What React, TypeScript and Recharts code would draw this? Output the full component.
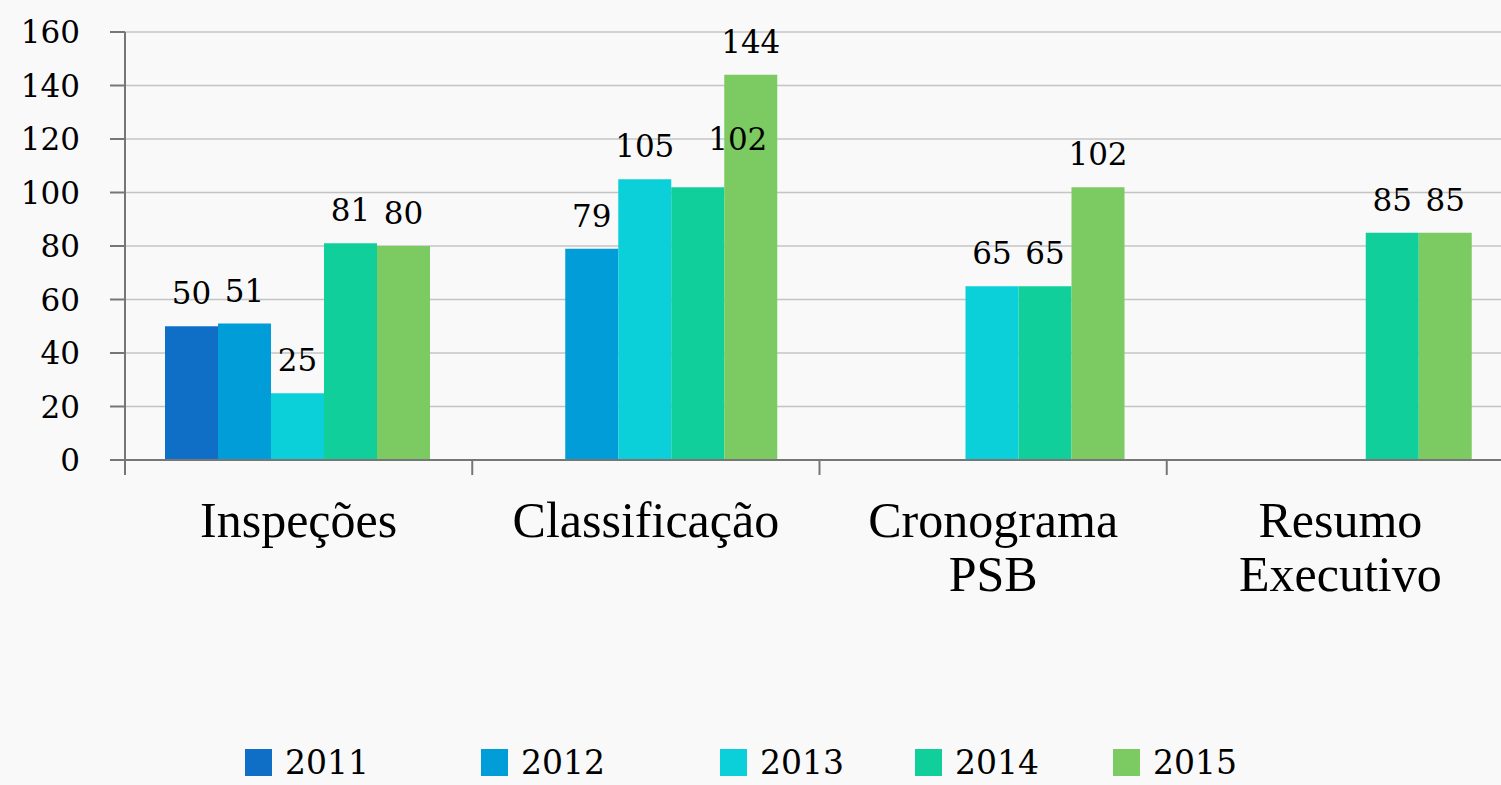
import React from 'react';
import { BarChart, Bar, XAxis, YAxis, CartesianGrid, LabelList, Legend } from 'recharts';

const categories = ['Inspeções', 'Classificação', 'Cronograma PSB', 'Resumo Executivo'];
const years = ['2011', '2012', '2013', '2014', '2015'];
const v2011 = [50, null, null, null];
const v2012 = [51, 79, null, null];
const v2013 = [25, 105, 65, null];
const v2014 = [81, 102, 65, 85];
const v2015 = [80, 144, 102, 85];
const yTicks = [0, 20, 40, 60, 80, 100, 120, 140, 160];

const colors = ['#0F6FC6', '#009DD9', '#0BD0D9', '#10CF9B', '#7CCA62'];
const legendLeft = [245, 481, 720, 915, 1113];
// the one label that was nudged aside in the original to clear its neighbour
const nudged: Record<string, { dx: number; dy: number }> = { 'Classificação|2014': { dx: 40, dy: -15 } };

const data = categories.map((name, i) => ({
  name,
  '2011': v2011[i],
  '2012': v2012[i],
  '2013': v2013[i],
  '2014': v2014[i],
  '2015': v2015[i],
}));

const numFont = '"DejaVu Serif", serif';
const catFont = '"Liberation Serif", "Times New Roman", serif';
const axisGrey = '#767676';

// category label + a tick mark on the left edge of each band
const CategoryTick = (props: any) => {
  const { x, y, payload, width, visibleTicksCount } = props;
  const lines = String(payload.value).split(' ');
  const half = width / visibleTicksCount / 2;
  return (
    <g>
      <line x1={x - half} x2={x - half} y1={y - 1} y2={y + 15} stroke={axisGrey} strokeWidth={2} />
      <text x={x} y={y} textAnchor="middle" fill="#000" fontFamily={catFont} fontSize={50}>
        {lines.map((l, i) => (
          <tspan key={i} x={x} dy={i === 0 ? 77 : 54}>{l}</tspan>
        ))}
      </text>
    </g>
  );
};

const makeLabel = (year: string) => (props: any) => {
  const { x, y, width, value, index } = props;
  if (value == null) return null;
  const n = nudged[`${categories[index]}|${year}`] || { dx: 0, dy: 0 };
  return (
    <text
      x={x + width / 2 + n.dx}
      y={y - 22 + n.dy}
      textAnchor="middle"
      fill="#000"
      fontFamily={numFont}
      fontSize={31}
    >
      {value}
    </text>
  );
};

const LegendBox = () => (
  <div style={{ position: 'relative', width: 1501, height: 40 }}>
    {years.map((y, i) => (
      <div key={y} style={{ position: 'absolute', left: legendLeft[i], top: 0, display: 'flex', alignItems: 'flex-end' }}>
        <div style={{ width: 27, height: 27, background: colors[i] }} />
        <span style={{ marginLeft: 13, fontFamily: numFont, fontSize: 33, lineHeight: '27px', color: '#000' }}>{y}</span>
      </div>
    ))}
  </div>
);

export default function App() {
  return (
    <div style={{ position: 'fixed', left: 0, top: 0, width: 1501, height: 785, overflow: 'hidden', background: '#f9f9f9' }}>
      <BarChart
        width={1514}
        height={785}
        data={data}
        margin={{ top: 32, right: 0, left: 0, bottom: 324 }}
        barCategoryGap={40}
        barGap={0}
      >
        <CartesianGrid vertical={false} stroke="#c4c4c4" strokeWidth={1.5} />
        <YAxis
          width={125}
          domain={[0, 160]}
          ticks={yTicks}
          interval={0}
          tickSize={15}
          tickMargin={30}
          stroke={axisGrey}
          strokeWidth={2}
          axisLine={{ stroke: axisGrey, strokeWidth: 2 }}
          tickLine={{ stroke: axisGrey, strokeWidth: 2 }}
          tick={{ fill: '#000', fontFamily: numFont, fontSize: 31 }}
        />
        <XAxis
          dataKey="name"
          height={1}
          interval={0}
          tickSize={0}
          tickMargin={0}
          tickLine={false}
          stroke={axisGrey}
          strokeWidth={2}
          axisLine={{ stroke: axisGrey, strokeWidth: 2 }}
          tick={<CategoryTick />}
        />
        <Legend
          layout="horizontal"
          verticalAlign="middle"
          content={<LegendBox />}
          wrapperStyle={{ left: 0, top: 749, width: 1501 }}
        />
        {years.map((y, i) => (
          <Bar key={y} dataKey={y} fill={colors[i]} isAnimationActive={false}>
            <LabelList dataKey={y} content={makeLabel(y)} />
          </Bar>
        ))}
      </BarChart>
    </div>
  );
}
